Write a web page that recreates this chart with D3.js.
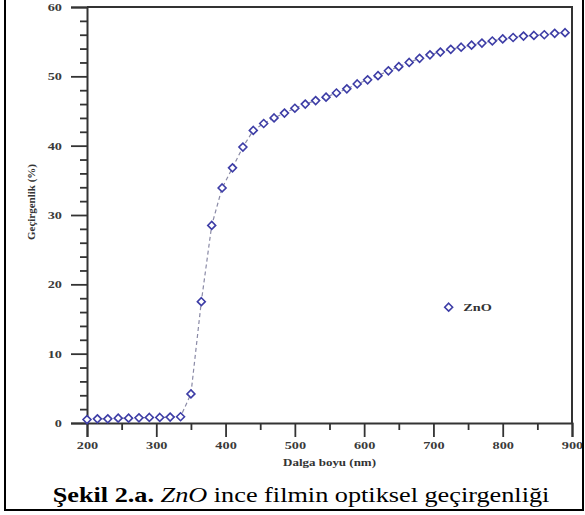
<!DOCTYPE html>
<html lang="tr">
<head>
    <meta charset="UTF-8" />
    <title>ZnO geçirgenlik</title>
    <script src="https://d3js.org/d3.v7.min.js"></script>
    <style>
        body { margin: 0; background: #fff; }
        .tick text { font-family: "Liberation Serif", "Times New Roman", serif; font-weight: bold; fill: #3a3a3a; }
    </style>
</head>
<body>
    <div class="canvas"></div>

    <script>
        // veriler
        const dalgaBoyu = [200, 215, 230, 245, 260, 275, 290, 305, 320, 335,
            350, 365, 380, 395, 410, 425, 440, 455, 470, 485,
            500, 515, 530, 545, 560, 575, 590, 605, 620, 635,
            650, 665, 680, 695, 710, 725, 740, 755, 770, 785,
            800, 815, 830, 845, 860, 875, 890];
        const gecirgenlik = [0.5, 0.6, 0.6, 0.7, 0.7, 0.75, 0.8, 0.8, 0.85, 0.9,
            4.2, 17.5, 28.5, 33.9, 36.8, 39.8, 42.2, 43.2, 44.0, 44.7,
            45.4, 46.0, 46.5, 47.0, 47.6, 48.2, 48.9, 49.5, 50.1, 50.8,
            51.4, 52.0, 52.6, 53.1, 53.5, 53.9, 54.2, 54.5, 54.8, 55.1,
            55.4, 55.6, 55.8, 55.9, 56.0, 56.2, 56.3];
        const xTicks = [200, 300, 400, 500, 600, 700, 800, 900];
        const yTicks = [0, 10, 20, 30, 40, 50, 60];
        const seriName = "ZnO";

        const width = 585, height = 515;
        const margin = { top: 7, right: 13, bottom: 92, left: 87 };
        const innerW = width - margin.left - margin.right;
        const innerH = height - margin.top - margin.bottom;
        const stretch = 1.3; // orijinal resim yatayda gerilmiş

        const svg = d3.select(".canvas").append("svg")
            .attr("width", width).attr("height", height);

        const g = svg.append("g").attr("transform", `translate(${margin.left},${margin.top})`);

        const x = d3.scaleLinear().domain([200, 900]).range([0, innerW]);
        const y = d3.scaleLinear().domain([0, 60]).range([innerH, 0]);

        const axisColor = "#333";

        // küçük tikler
        g.append("g")
            .attr("transform", `translate(0,${innerH})`)
            .call(d3.axisBottom(x).tickValues(d3.range(250, 900, 100)).tickSize(7).tickFormat(""))
            .call(a => a.select(".domain").remove());
        g.append("g")
            .call(d3.axisLeft(y).tickValues(d3.range(0, 61, 2).filter(v => v % 10 !== 0)).tickSize(7).tickFormat(""))
            .call(a => a.select(".domain").remove());

        // ana tikler
        const xAxis = g.append("g")
            .attr("transform", `translate(0,${innerH})`)
            .call(d3.axisBottom(x).tickValues(xTicks).tickSize(14).tickPadding(4));
        xAxis.selectAll("text").attr("font-size", 11)
            .attr("transform", `scale(${stretch},1)`);

        const yAxis = g.append("g")
            .call(d3.axisLeft(y).tickValues(yTicks).tickSize(16).tickPadding(9));
        yAxis.selectAll("text").attr("font-size", 11)
            .attr("x", 0)
            .attr("transform", `translate(-25,0) scale(${stretch},1)`);

        g.selectAll(".tick line").attr("stroke", axisColor).attr("stroke-width", 1.8);
        g.selectAll(".domain").attr("stroke", axisColor).attr("stroke-width", 2);

        // çerçeve (üst ve sağ)
        g.append("path")
            .attr("d", `M0,0H${innerW}V${innerH}`)
            .attr("fill", "none").attr("stroke", axisColor).attr("stroke-width", 2);

        // kesikli çizgi
        const line = d3.line().x((d, i) => x(dalgaBoyu[i])).y(d => y(d));
        g.append("path")
            .datum(gecirgenlik)
            .attr("d", line)
            .attr("fill", "none")
            .attr("stroke", "#8a8aa6")
            .attr("stroke-width", 1.2)
            .attr("stroke-dasharray", "4,3");

        // elmas işaretler
        const diamond = d3.symbol().type(d3.symbolDiamond2).size(40);
        g.selectAll(".pt").data(gecirgenlik).enter()
            .append("path")
            .attr("class", "pt")
            .attr("d", diamond)
            .attr("transform", (d, i) => `translate(${x(dalgaBoyu[i])},${y(d)})`)
            .attr("fill", "#fff")
            .attr("stroke", "#3d3da6")
            .attr("stroke-width", 1.6);

        // lejant
        g.append("path")
            .attr("d", diamond)
            .attr("transform", `translate(${x(722)},${y(16.7)})`)
            .attr("fill", "#fff").attr("stroke", "#3d3da6").attr("stroke-width", 1.6);
        g.append("text")
            .attr("transform", `translate(${x(743)},${y(16.7)}) scale(${stretch},1)`)
            .attr("dy", "0.35em")
            .attr("font-family", "Liberation Serif, serif").attr("font-weight", "bold")
            .attr("font-size", 11).attr("fill", "#333")
            .text(seriName);

        // eksen başlıkları
        svg.append("text")
            .attr("transform", `translate(${margin.left + innerW / 2},466) scale(1.18,1)`)
            .attr("text-anchor", "middle")
            .attr("font-family", "Liberation Serif, serif").attr("font-weight", "bold")
            .attr("font-size", 11).attr("fill", "#333")
            .text("Dalga boyu (nm)");
        svg.append("text")
            .attr("transform", "translate(35,202) rotate(-90)")
            .attr("text-anchor", "middle")
            .attr("font-family", "Liberation Serif, serif").attr("font-weight", "bold")
            .attr("font-size", 11).attr("fill", "#333")
            .text("Geçirgenlik (%)");

        // alt yazı
        const caption = svg.append("text")
            .attr("transform", "translate(301,502) scale(1.25,1)")
            .attr("text-anchor", "middle")
            .attr("font-family", "Liberation Serif, Times New Roman, serif")
            .attr("font-size", 21).attr("fill", "#000");
        caption.append("tspan").attr("font-weight", "bold").text("Şekil 2.a. ");
        caption.append("tspan").attr("font-style", "italic").text("ZnO");
        caption.append("tspan").text(" ince filmin optiksel geçirgenliği");

        // dış çerçeve
        svg.append("rect")
            .attr("x", 5).attr("y", -5).attr("width", 578).attr("height", 515)
            .attr("fill", "none").attr("stroke", "#000").attr("stroke-width", 2);
    </script>
</body>
</html>
